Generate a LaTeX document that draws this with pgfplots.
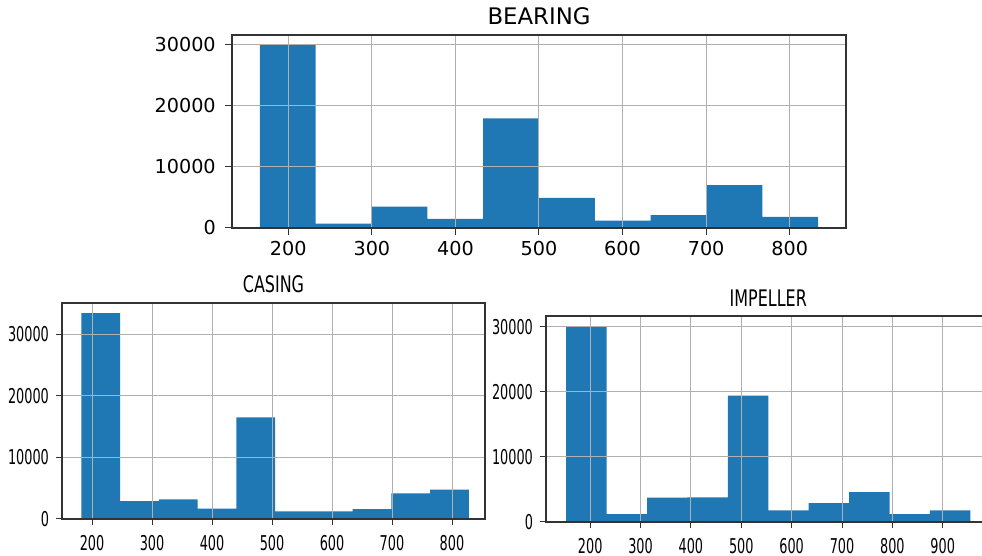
\documentclass[border=0pt]{standalone}
\usepackage{fontspec}
\setmainfont{DejaVu Sans}
\newfontfamily\condfont[FakeStretch=0.63]{DejaVu Sans}
\newfontfamily\condtitle[FakeStretch=0.70]{DejaVu Sans}
\usepackage{pgfplots}
\pgfplotsset{compat=1.18}
\definecolor{mplblue}{HTML}{1F77B4}
\definecolor{mplgrid}{HTML}{B0B0B0}
\pgfplotsset{
  histstyle/.style={
    scale only axis, axis on top, grid=major,
    grid style={mplgrid, line width=0.5pt},
    axis line style={black!80, line width=0.55pt},
    tick align=outside, tick style={black!80, line width=0.5pt},
    xtick pos=bottom, ytick pos=left,
    /pgf/number format/assume math mode=true,
    /pgf/number format/1000 sep={},
    scaled y ticks=false, scaled x ticks=false,
    ymin=0, ytick={0,10000,20000,30000},
  },
}
\begin{document}
\begin{tikzpicture}
\useasboundingbox (0,0) rectangle (491pt,278pt);
% BEARING
\begin{axis}[histstyle,
  at={(116pt,164pt)}, anchor=south west,
  width=307pt, height=96.5pt,
  xmin=132.6, xmax=867.4, ymax=31500,
  xtick={200,300,400,500,600,700,800},
  major tick length=3.3pt,
  ticklabel style={font=\fontsize{9.6}{11}\selectfont},
  yticklabel style={xshift=-1.3pt},
  title={BEARING},
  title style={at={(0.5,1)}, anchor=base, yshift=-1pt, inner sep=0pt, font=\fontsize{11.4}{13}\selectfont},
]
\addplot[ybar interval, fill=mplblue, draw=none] coordinates {
(166.0,30000) (232.8,700) (299.6,3500) (366.4,1500) (433.2,17900)
(500.0,4900) (566.8,1200) (633.6,2100) (700.4,7000) (767.2,1800) (834.0,1800)};
\end{axis}
% CASING
\begin{axis}[histstyle,
  at={(31pt,18.5pt)}, anchor=south west,
  width=211.5pt, height=108pt,
  xmin=149.9, xmax=855, ymax=35050,
  xtick={200,300,400,500,600,700,800},
  major tick length=3pt,
  ticklabel style={font=\condfont\fontsize{10.2}{12}\selectfont},
  xticklabel style={yshift=-1.5pt},
  title={CASING},
  title style={at={(0.5,1)}, anchor=base, yshift=-1pt, inner sep=0pt, font=\condtitle\fontsize{11.4}{13}\selectfont},
]
\addplot[ybar interval, fill=mplblue, draw=none] coordinates {
(182.2,33400) (246.8,2900) (311.4,3200) (376.0,1700) (440.6,16500)
(505.2,1250) (569.8,1250) (634.4,1600) (699.0,4150) (763.6,4750) (828.2,4750)};
\end{axis}
% IMPELLER
\begin{axis}[histstyle,
  at={(273pt,17pt)}, anchor=south west,
  width=222.3pt, height=103pt,
  xmin=112.3, xmax=995, ymax=31650,
  xtick={200,300,400,500,600,700,800,900},
  major tick length=3pt,
  ticklabel style={font=\condfont\fontsize{10.2}{12}\selectfont},
  xticklabel style={yshift=-1.5pt},
  title={IMPELLER},
  title style={at={(0.5,1)}, anchor=base, yshift=-1.5pt, inner sep=0pt, font=\condtitle\fontsize{11.4}{13}\selectfont},
]
\addplot[ybar interval, fill=mplblue, draw=none] coordinates {
(152.40,30000) (232.65,1200) (312.90,3750) (393.15,3800) (473.40,19400)
(553.65,1800) (633.90,2900) (714.15,4600) (794.40,1200) (874.65,1800) (954.90,1800)};
\end{axis}
\end{tikzpicture}
\end{document}
